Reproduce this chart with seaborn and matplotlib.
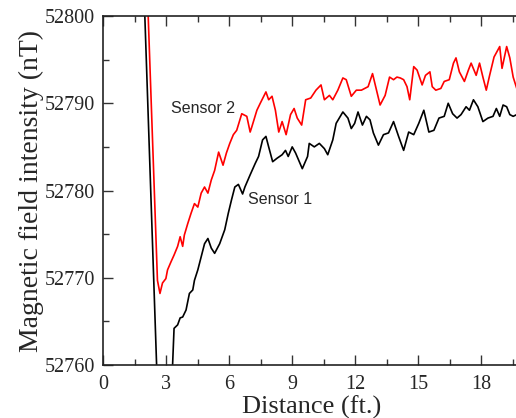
import matplotlib
matplotlib.use("Agg")
import matplotlib.pyplot as plt
import seaborn as sns
import pandas as pd
from matplotlib.ticker import MultipleLocator

# Sensor 2 (red)
s2_dist = [1.94, 2.15, 2.59, 2.71, 2.83, 2.99, 3.07, 3.23, 3.38, 3.55, 3.67, 3.79, 3.87, 4.03,
           4.19, 4.35, 4.51, 4.67, 4.83, 4.99, 5.15, 5.31, 5.50, 5.71, 5.87, 6.03, 6.20, 6.36,
           6.60, 6.84, 7.00, 7.08, 7.32, 7.48, 7.75, 7.88, 8.04, 8.20, 8.36, 8.52, 8.71, 8.92,
           9.09, 9.24, 9.45, 9.64, 9.88, 10.13, 10.37, 10.53, 10.77, 10.93, 11.17, 11.41, 11.57,
           11.81, 12.05, 12.29, 12.61, 12.82, 13.01, 13.18, 13.42, 13.63, 13.82, 13.98, 14.14,
           14.30, 14.46, 14.59, 14.78, 14.94, 15.18, 15.34, 15.55, 15.66, 15.83, 16.07, 16.23,
           16.47, 16.67, 16.79, 16.95, 17.19, 17.38, 17.51, 17.75, 17.91, 18.07, 18.23, 18.39,
           18.60, 18.87, 18.98, 19.20, 19.35, 19.51, 19.68, 19.88]
s2_field = [52815.0, 52800.0, 52769.7, 52768.2, 52769.4, 52769.9, 52770.9, 52771.8, 52772.6,
            52773.6, 52774.7, 52773.6, 52774.9, 52776.2, 52777.4, 52778.5, 52778.1, 52779.7,
            52780.4, 52779.7, 52781.2, 52782.3, 52784.4, 52782.9, 52784.3, 52785.4, 52786.4,
            52786.9, 52788.8, 52788.5, 52786.7, 52787.3, 52789.2, 52790.0, 52791.3, 52790.4,
            52790.8, 52789.2, 52786.7, 52787.9, 52786.4, 52788.7, 52789.4, 52788.3, 52787.5,
            52790.4, 52790.6, 52791.5, 52792.1, 52790.4, 52790.9, 52790.4, 52791.5, 52792.9,
            52792.7, 52790.8, 52791.5, 52791.5, 52791.9, 52793.4, 52791.5, 52789.8, 52790.9,
            52793.0, 52792.7, 52793.0, 52792.9, 52792.7, 52791.9, 52790.4, 52794.2, 52793.8,
            52792.1, 52793.2, 52793.6, 52791.9, 52791.5, 52791.7, 52792.5, 52792.7, 52794.6,
            52795.2, 52793.6, 52792.5, 52793.8, 52794.6, 52793.2, 52794.6, 52793.0, 52791.5,
            52793.2, 52795.3, 52796.5, 52794.0, 52796.5, 52795.2, 52793.0, 52791.7, 52792.5]

# Sensor 1 (black)
s1_dist = [1.87, 1.99, 2.55, 2.78, 3.02, 3.31, 3.38, 3.55, 3.67, 3.79, 3.95, 4.11, 4.27, 4.35,
           4.51, 4.67, 4.83, 4.99, 5.15, 5.31, 5.55, 5.79, 5.96, 6.11, 6.27, 6.44, 6.64, 6.75,
           7.00, 7.24, 7.40, 7.59, 7.75, 7.88, 8.07, 8.28, 8.52, 8.68, 8.81, 9.00, 9.16, 9.48,
           9.73, 9.81, 10.05, 10.29, 10.53, 10.69, 10.93, 11.09, 11.41, 11.65, 11.81, 11.97,
           12.13, 12.34, 12.53, 12.70, 12.86, 13.10, 13.34, 13.58, 13.82, 14.06, 14.30, 14.54,
           14.78, 15.02, 15.26, 15.50, 15.74, 15.98, 16.23, 16.42, 16.63, 16.84, 17.03, 17.27,
           17.43, 17.62, 17.83, 18.07, 18.31, 18.55, 18.71, 18.87, 19.03, 19.20, 19.35, 19.51,
           19.68, 19.88]
s1_field = [52808.0, 52800.0, 52760.0, 52744.0, 52744.0, 52760.0, 52764.2, 52764.6, 52765.4,
            52765.5, 52766.3, 52768.2, 52768.6, 52769.7, 52770.9, 52772.4, 52773.9, 52774.5,
            52773.4, 52772.8, 52773.9, 52775.5, 52777.4, 52778.9, 52780.4, 52780.7, 52779.6,
            52780.4, 52781.8, 52783.1, 52783.9, 52785.8, 52786.2, 52785.0, 52783.3, 52783.7,
            52784.1, 52784.6, 52783.9, 52785.0, 52784.3, 52782.5, 52783.9, 52785.4, 52785.0,
            52785.4, 52784.8, 52784.1, 52785.8, 52787.7, 52789.0, 52788.3, 52787.1, 52787.7,
            52789.0, 52787.5, 52788.5, 52788.1, 52786.6, 52785.2, 52786.4, 52786.6, 52787.9,
            52786.2, 52784.6, 52786.7, 52786.4, 52787.7, 52789.2, 52786.7, 52786.9, 52788.3,
            52788.5, 52790.0, 52788.8, 52788.3, 52788.7, 52789.6, 52789.2, 52790.4, 52789.6,
            52787.9, 52788.3, 52788.5, 52789.4, 52788.5, 52789.8, 52789.6, 52788.7, 52788.5,
            52788.7, 52788.7]

sns.set_style("ticks")
plt.rcParams['font.family'] = ['Liberation Serif', 'DejaVu Serif']

fig = plt.figure(figsize=(5.16, 4.18), dpi=100)
ax = fig.add_axes([0.1996, 0.1268, 0.81, 0.8349])

s1 = pd.DataFrame({'dist': s1_dist, 'field': s1_field})
s2 = pd.DataFrame({'dist': s2_dist, 'field': s2_field})
sns.lineplot(x='dist', y='field', data=s1, color='black', linewidth=1.2, estimator=None, ax=ax)
sns.lineplot(x='dist', y='field', data=s2, color='red', linewidth=1.2, estimator=None, ax=ax)

ax.set_xlim(0, 19.88)
ax.set_ylim(52760, 52800)
ax.xaxis.set_major_locator(MultipleLocator(3))
ax.xaxis.set_minor_locator(MultipleLocator(1.5))
ax.yaxis.set_major_locator(MultipleLocator(10))
ax.yaxis.set_minor_locator(MultipleLocator(5))
ax.tick_params(which='both', direction='in', top=True, right=False, labelsize=14.5,
               color='#333333', width=1.0)
ax.tick_params(which='major', length=7)
ax.tick_params(which='minor', length=4)
ax.tick_params(axis='x', which='major', pad=7)
ax.tick_params(axis='y', which='major', pad=6)
for side in ['left', 'bottom', 'top']:
    ax.spines[side].set_linewidth(1.2)
    ax.spines[side].set_color('#222222')
ax.spines['right'].set_visible(False)

ax.set_xlabel('Distance (ft.)', fontsize=19, labelpad=1)
ax.set_ylabel('Magnetic field intensity (nT)', fontsize=20, labelpad=0)

ax.text(3.23, 52789.4, 'Sensor 2', fontsize=11.5, family=['Liberation Sans', 'DejaVu Sans'],
        va='center', ha='left')
ax.text(6.92, 52779.0, 'Sensor 1', fontsize=11.5, family=['Liberation Sans', 'DejaVu Sans'],
        va='center', ha='left')

fig.savefig('out.png', dpi=100)
